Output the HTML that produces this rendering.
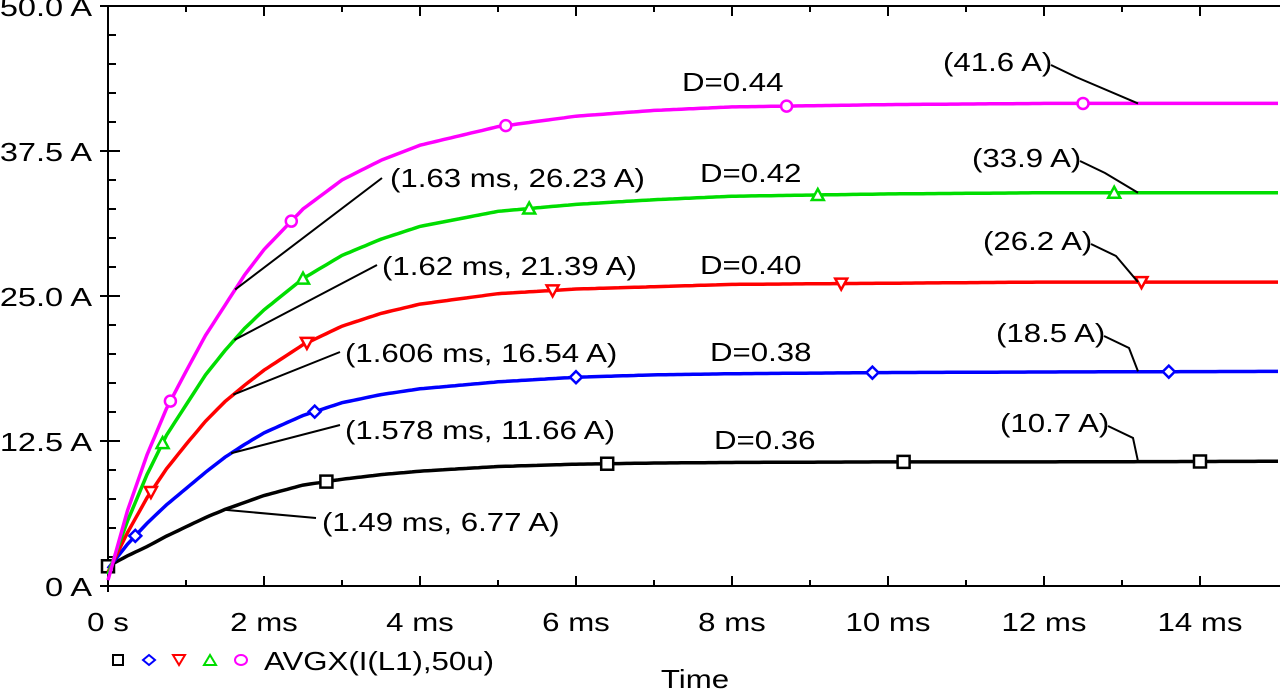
<!DOCTYPE html>
<html><head><meta charset="utf-8"><style>
body{margin:0;background:#fff}
svg text{font-family:"Liberation Sans",Arial,sans-serif;font-size:26px;fill:#000}
</style></head><body>
<svg id="chart" width="1280" height="690" xmlns="http://www.w3.org/2000/svg"></svg>
<script>
const times = [0,0.25,0.5,0.75,1,1.25,1.5,1.75,2,2.5,3,3.5,4,5,6,7,8,10,12,15];
const seriesNames = ["D=0.36","D=0.38","D=0.40","D=0.42","D=0.44"];
const seriesColors = ["#000000","#0000ff","#ff0000","#00dd00","#ff00ff"];
const valsD36 = [1.7,2.6,3.4,4.3,5.1,5.9,6.6,7.2,7.8,8.7,9.2,9.6,9.9,10.3,10.5,10.6,10.65,10.7,10.7,10.75];
const valsD38 = [1.5,3.6,5.4,7.0,8.4,9.8,11.1,12.2,13.2,14.7,15.8,16.5,17.0,17.6,18.0,18.2,18.3,18.4,18.45,18.5];
const valsD40 = [1.2,4.6,7.6,10.1,12.2,14.2,15.9,17.3,18.6,20.8,22.4,23.5,24.3,25.2,25.6,25.8,26.0,26.1,26.2,26.2];
const valsD42 = [1.0,5.6,9.6,13.0,15.6,18.2,20.3,22.2,23.8,26.5,28.5,29.9,31.0,32.3,32.9,33.3,33.6,33.8,33.9,33.9];
const valsD44 = [0.5,6.5,11.3,15.3,18.5,21.6,24.2,26.8,29.0,32.5,35.0,36.7,38.0,39.6,40.5,41.0,41.3,41.5,41.6,41.6];
const allVals = [valsD36,valsD38,valsD40,valsD42,valsD44];
const markerTimes = [[0,2.8,6.4,10.2,14.0],[0.35,2.65,6.0,9.8,13.6],[0.55,2.55,5.7,9.4,13.25],[0.7,2.5,5.4,9.1,12.9],[0.8,2.35,5.1,8.7,12.5]];
const markerShapes = ["square","diamond","down","up","circle"];
const xTicks = [0,2,4,6,8,10,12,14];
const xTickLabels = ["0 s","2 ms","4 ms","6 ms","8 ms","10 ms","12 ms","14 ms"];
const yTicks = [0,12.5,25,37.5,50];
const yTickLabels = ["0 A","12.5 A","25.0 A","37.5 A","50.0 A"];
const cursorLabels = ["(1.49 ms, 6.77 A)","(1.578 ms, 11.66 A)","(1.606 ms, 16.54 A)","(1.62 ms, 21.39 A)","(1.63 ms, 26.23 A)"];
const cursorTimes = [1.49,1.578,1.606,1.62,1.63];
const finalLabels = ["(10.7 A)","(18.5 A)","(26.2 A)","(33.9 A)","(41.6 A)"];

const L=108,R=1278,T=6,B=586;
const X=t=>L+t*(R-L)/15;
const Y=v=>B-v*(B-T)/50;
const svg=document.getElementById('chart');
const NS="http://www.w3.org/2000/svg";
function mk(tag,attrs,parent){const e=document.createElementNS(NS,tag);for(const k in attrs)e.setAttribute(k,attrs[k]);(parent||svg).appendChild(e);return e;}
function interp(arr,t){for(let i=1;i<times.length;i++){if(t<=times[i]){const f=(t-times[i-1])/(times[i]-times[i-1]);return arr[i-1]+f*(arr[i]-arr[i-1]);}}return arr[arr.length-1];}
function stretch(el,k){const w=el.getComputedTextLength();el.setAttribute('textLength',(w*k).toFixed(1));el.setAttribute('lengthAdjust','spacingAndGlyphs');}

const ax=mk('g',{});


mk('line',{x1:100,y1:B,x2:1280,y2:B,stroke:'#000','stroke-width':2},ax);
mk('line',{x1:100,y1:T,x2:1280,y2:T,stroke:'#000','stroke-width':2},ax);
mk('line',{x1:L,y1:T,x2:L,y2:B+6,stroke:'#000','stroke-width':2},ax);
for(let m=1;m<15;m++){const len=(m%2==0)?10:6;
 mk('line',{x1:X(m),y1:B,x2:X(m),y2:B-len,stroke:'#000','stroke-width':2},ax);
 mk('line',{x1:X(m),y1:T,x2:X(m),y2:T+len,stroke:'#000','stroke-width':2},ax);}
for(let v=2.5;v<50;v+=2.5){const major=Math.abs(v/12.5-Math.round(v/12.5))<1e-6;
 mk('line',{x1:major?100:L,y1:Y(v),x2:major?L+12:L+8,y2:Y(v),stroke:'#000','stroke-width':2},ax);}
xTicks.forEach((t,i)=>{const tx=mk('text',{x:X(t),y:631,'text-anchor':'middle'});tx.textContent=xTickLabels[i];
 
 
 stretch(tx,1.2);});
yTicks.forEach((v,i)=>{const tx=mk('text',{x:92,y:Y(v)+10,'text-anchor':'end'});tx.textContent=yTickLabels[i];
 
 
 stretch(tx,1.25);});

allVals.forEach((arr,si)=>{
 const c=seriesColors[si];
 const g=mk('g',{});
 
 
 let d='';
 for(let t=0;t<=15.001;t+=0.05){d+=(t==0?'M':'L')+X(t).toFixed(1)+','+Y(interp(arr,t)).toFixed(1);}
 mk('path',{d:d,fill:'none',stroke:c,'stroke-width':3.5},g);
 markerTimes[si].forEach(t=>{
  const x=X(t),y=Y(interp(arr,t)),s=markerShapes[si];let e;
  if(s=='square')e=mk('rect',{x:x-6,y:y-6,width:12,height:12,fill:'#fff',stroke:c,'stroke-width':2.5},g);
  else if(s=='diamond')e=mk('polygon',{points:`${x},${y-6} ${x+6},${y} ${x},${y+6} ${x-6},${y}`,fill:'#fff',stroke:c,'stroke-width':2.5},g);
  else if(s=='down')e=mk('polygon',{points:`${x-6},${y-5} ${x+6},${y-5} ${x},${y+6}`,fill:'#fff',stroke:c,'stroke-width':2.5},g);
  else if(s=='up')e=mk('polygon',{points:`${x-6},${y+5} ${x+6},${y+5} ${x},${y-6}`,fill:'#fff',stroke:c,'stroke-width':2.5},g);
  else e=mk('circle',{cx:x,cy:y,r:5.5,fill:'#fff',stroke:c,'stroke-width':2.5},g);
  
  
 });
});

const dPos=[[714,449],[710,361],[700,274],[700,182],[682,91]];
const cursorText=[[322,531],[345,439],[345,362],[382,275],[390,187]];
const cursorLineStart=[[316,518],[340,425],[340,352],[377,265],[382,178]];
const finalText=[[1000,432],[996,342],[983,250],[972,167],[943,71]];
allVals.forEach((arr,si)=>{
 let t=mk('text',{x:dPos[si][0],y:dPos[si][1]});t.textContent=seriesNames[si];
 
 
 stretch(t,1.2);
 t=mk('text',{x:cursorText[si][0],y:cursorText[si][1]});t.textContent=cursorLabels[si];
 
 
 stretch(t,1.2);
 const px=X(cursorTimes[si]),py=Y(interp(arr,cursorTimes[si]));
 mk('line',{x1:cursorLineStart[si][0],y1:cursorLineStart[si][1],x2:px,y2:py,stroke:'#000','stroke-width':2});
 t=mk('text',{x:finalText[si][0],y:finalText[si][1]});t.textContent=finalLabels[si];
 
 
 stretch(t,1.2);
 const fx=finalText[si][0]+108, fy=finalText[si][1]-6;
 mk('polyline',{points:`${fx},${fy} ${fx+25},${fy+12} 1138,${Y(arr[arr.length-1])}`,fill:'none',stroke:'#000','stroke-width':2});
});

const lg=mk('g',{});


const lx=[118,149,179,210,241];
lx.forEach((x,i)=>{const y=660,c=seriesColors[i],s=markerShapes[i];
 if(s=='square')mk('rect',{x:x-5,y:y-5,width:10,height:10,fill:'none',stroke:c,'stroke-width':2},lg);
 else if(s=='diamond')mk('polygon',{points:`${x},${y-5} ${x+6},${y} ${x},${y+5} ${x-6},${y}`,fill:'none',stroke:c,'stroke-width':2},lg);
 else if(s=='down')mk('polygon',{points:`${x-6},${y-5} ${x+6},${y-5} ${x},${y+5}`,fill:'none',stroke:c,'stroke-width':2},lg);
 else if(s=='up')mk('polygon',{points:`${x-6},${y+5} ${x+6},${y+5} ${x},${y-5}`,fill:'none',stroke:c,'stroke-width':2},lg);
 else mk('ellipse',{cx:x,cy:y,rx:6,ry:5,fill:'none',stroke:c,'stroke-width':2},lg);});
let lt=mk('text',{x:264,y:670},lg);lt.textContent="AVGX(I(L1),50u)";


stretch(lt,1.2);
let xt=mk('text',{x:695,y:688,'text-anchor':'middle'});xt.textContent="Time";


stretch(xt,1.2);
</script>
</body></html>
